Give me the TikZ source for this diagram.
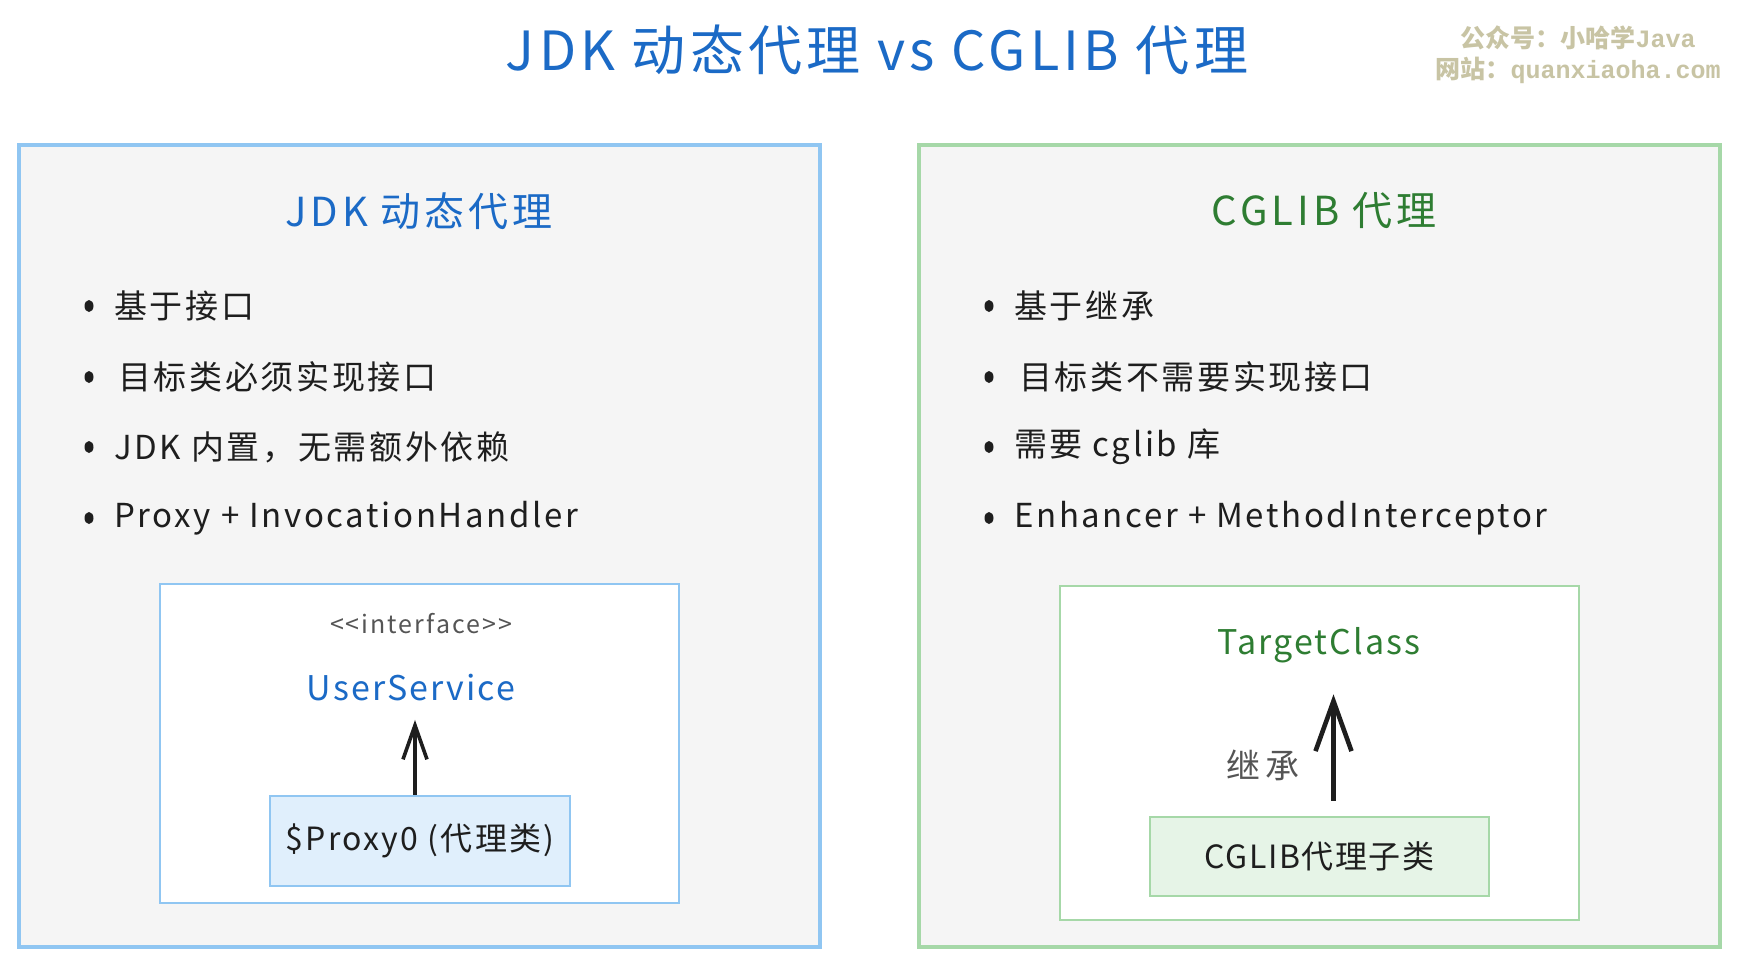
\documentclass[tikz,border=0pt]{standalone}
\usepackage{fontspec}
\setmainfont{Noto Sans CJK SC}
\newfontfamily\wmmono{Liberation Mono}
\usetikzlibrary{arrows.meta,shapes.geometric}
\definecolor{ttlblue}{HTML}{1B6AC6}
\definecolor{ttlgreen}{HTML}{2E7D32}
\definecolor{bdblue}{HTML}{90C6F2}
\definecolor{bdgreen}{HTML}{A6D8A8}
\definecolor{panelbg}{HTML}{F5F5F5}
\definecolor{proxybg}{HTML}{E0EFFC}
\definecolor{cglibbg}{HTML}{E6F4E7}
\definecolor{ink}{HTML}{1E1E1E}
\definecolor{greytxt}{HTML}{555555}
\definecolor{wmcol}{HTML}{C8C4A4}
\newcommand{\fsz}[2]{\fontsize{#1}{#1}\selectfont\addfontfeature{LetterSpace=#2}}
\tikzset{
  panel/.style={draw, line width=3.4pt, fill=panelbg, minimum width=801pt, minimum height=802pt, inner sep=0pt},
  innerbox/.style={draw, line width=2.5pt, fill=white, inner sep=0pt},
  classbox/.style={draw, line width=2.2pt, inner sep=0pt},
  bullet/.style={ellipse, fill=ink, inner sep=0pt, minimum width=9pt, minimum height=12pt},
  btext/.style={anchor=west, text=ink, inner sep=0pt, font=\fsz{33}{8}},
  heading/.style={font=\fsz{40}{10}, inner sep=2pt},
  arrl/.style={-{Straight Barb[length=34pt,width=24pt,line width=3.6pt]}, line width=4pt, ink},
  arrr/.style={-{Straight Barb[length=50pt,width=36pt,line width=4.6pt]}, line width=5pt, ink}
}
\begin{document}
\begin{tikzpicture}[x=1pt,y=-1pt]
\fill[white] (0,0) rectangle (1740,967);
\useasboundingbox (0,0) rectangle (1740,967);
% title
\node[font=\fsz{54}{8}, text=ttlblue] (title) at (877,50) {JDK 动态代理 vs CGLIB 代理};
% watermark
\node[font=\bfseries\fontsize{25}{28}\selectfont, text=wmcol, inner sep=0pt] (wm1) at (1578,38) {公众号：小哈学{\wmmono Java}};
\node[font=\bfseries\fontsize{25}{28}\selectfont, text=wmcol, inner sep=0pt] (wm2) at (1578,70) {网站：{\wmmono quanxiaoha.com}};
% panels
\node[panel, draw=bdblue] (lpanel) at (419.5,546) {};
\node[panel, draw=bdgreen] (rpanel) at (1319.5,546) {};
% headings
\node[heading, text=ttlblue] (lhead) at (419,211) {JDK 动态代理};
\node[heading, text=ttlgreen] (rhead) at (1324,211) {CGLIB 代理};
% left bullets
\node[bullet] (lb1) at (89,306) {};
\node[btext] (lt1) at (114,306) {基于接口};
\node[bullet] (lb2) at (89,377) {};
\node[btext] (lt2) at (118,377) {目标类必须实现接口};
\node[bullet] (lb3) at (89,447) {};
\node[btext] (lt3) at (114,447) {JDK 内置，无需额外依赖};
\node[bullet] (lb4) at (89,518) {};
\node[btext] (lt4) at (114,518) {Proxy + InvocationHandler};
% right bullets
\node[bullet] (rb1) at (989,306) {};
\node[btext] (rt1) at (1014,306) {基于继承};
\node[bullet] (rb2) at (989,377) {};
\node[btext] (rt2) at (1019,377) {目标类不需要实现接口};
\node[bullet] (rb3) at (989,447) {};
\node[btext] (rt3) at (1014,447) {需要 cglib 库};
\node[bullet] (rb4) at (989,518) {};
\node[btext] (rt4) at (1014,518) {Enhancer + MethodInterceptor};
% left inner diagram
\node[innerbox, draw=bdblue, minimum width=519pt, minimum height=319pt] (lbox) at (419.5,743.5) {};
\node[font=\fsz{25}{8}, text=greytxt] (iface) at (421,624) {<{}<interface>{}>};
\node[font=\fsz{34}{6}, text=ttlblue] (usersvc) at (411,688) {UserService};
\node[classbox, draw=bdblue, fill=proxybg, minimum width=300pt, minimum height=90pt, font=\fsz{32}{7}, text=ink] (proxy) at (420,841) {\$Proxy0 (代理类)};
\draw[arrl, shorten >=15pt] ([xshift=-5pt]proxy.north) -- ([xshift=-5pt]proxy.north |- usersvc.south);
% right inner diagram
\node[innerbox, draw=bdgreen, minimum width=519pt, minimum height=334pt] (rbox) at (1319.5,753) {};
\node[font=\fsz{34}{6}, text=ttlgreen] (target) at (1319,645) {TargetClass};
\node[classbox, draw=bdgreen, fill=cglibbg, minimum width=339pt, minimum height=79pt, font=\fsz{32}{5}, text=ink] (cglib) at (1319.5,856.5) {CGLIB代理子类};
\draw[arrr, shorten <=15pt, shorten >=28pt] ([xshift=14pt]cglib.north) -- ([xshift=14pt]cglib.north |- target.south);
\node[font=\fsz{34}{12}, text=greytxt] (inherit) at (1263,765) {继承};
\end{tikzpicture}
\end{document}
